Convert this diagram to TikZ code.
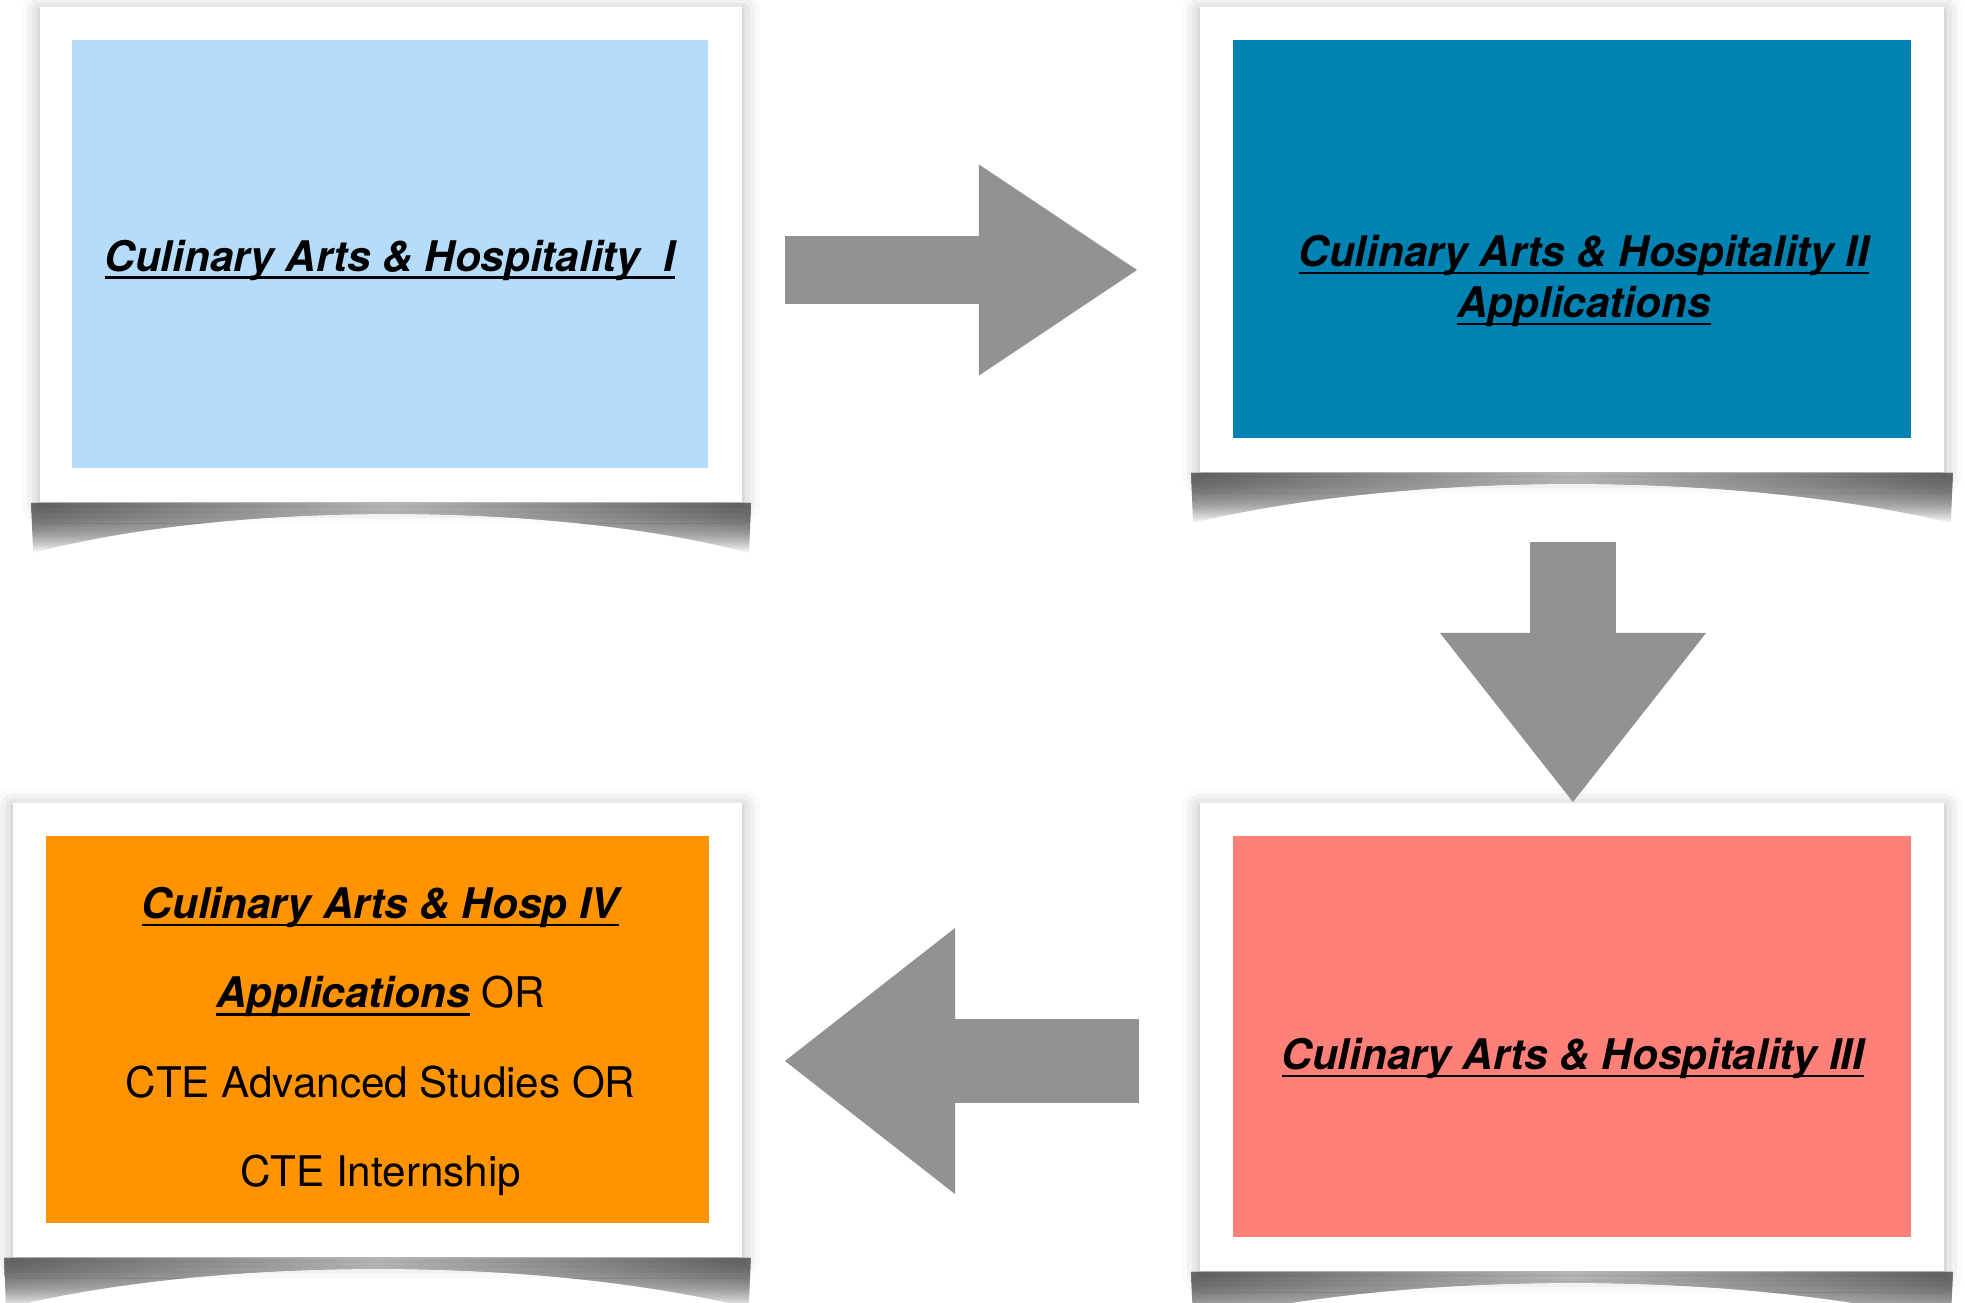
\documentclass[tikz,border=0pt]{standalone}
\usepackage{fontspec}
\setmainfont{TeX Gyre Heros}
\usepackage{tikz}
\usetikzlibrary{positioning,calc,arrows.meta,shadows.blur,fadings}
\pgfdeclarelayer{background}
\pgfsetlayers{background,main}
\definecolor{pastelblue}{RGB}{181,221,251}
\definecolor{oceanblue}{RGB}{0,131,179}
\definecolor{salmonred}{RGB}{255,127,121}
\definecolor{tangerine}{RGB}{255,147,0}
\definecolor{arrowgray}{RGB}{146,146,146}
\tikzfading[name=curlfade, top color=transparent!10, bottom color=transparent!100]
\newsavebox{\ulbox}
\newcommand{\ulbi}[1]{\sbox{\ulbox}{\bfseries\itshape #1}\rlap{\rule[-2.2pt]{\wd\ulbox}{0.7pt}}\usebox{\ulbox}}
\tikzstyle{card} = [rectangle, fill=white, inner sep=0pt,
  blur shadow={shadow xshift=0pt, shadow yshift=-1pt, shadow blur radius=5pt, shadow opacity=30}]
\tikzstyle{panel} = [rectangle, inner sep=0pt]
\tikzstyle{title} = [align=center, inner sep=0pt, font=\fontsize{12}{14.6}\selectfont]
\tikzstyle{curl} = [left color=black!50, right color=black!50, middle color=black!4, path fading=curlfade]
\tikzstyle{bigarrow} = [draw=arrowgray, line width=0.68cm]

\begin{document}
\begin{tikzpicture}[x=0.01cm, y=-0.01cm]
        \useasboundingbox (0,0) rectangle (1965,1303);
        % Cards ------------------------------------------------------------------------------------
        \node[card, minimum width=7.02cm, minimum height=4.95cm] (card1) at (391,254.5) {};
        \node[panel, minimum width=6.36cm, minimum height=4.28cm, fill=pastelblue] (panel1) at (390,254) {};
        \node[card, minimum width=7.44cm, minimum height=4.65cm] (card2) at (1572,239.5) {};
        \node[panel, minimum width=6.78cm, minimum height=3.98cm, fill=oceanblue] (panel2) at (1572,239) {};
        \node[card, minimum width=7.44cm, minimum height=4.68cm] (card3) at (1572,1037) {};
        \node[panel, minimum width=6.78cm, minimum height=4.01cm, fill=salmonred] (panel3) at (1572,1036.5) {};
        \node[card, minimum width=7.29cm, minimum height=4.54cm] (card4) at (377.5,1030) {};
        \node[panel, minimum width=6.63cm, minimum height=3.87cm, fill=tangerine] (panel4) at (377.5,1029.5) {};
        % Curled shadows
        \begin{pgfonlayer}{background}
            \foreach \c in {card1,card2,card3,card4}{
                \fill[curl] ($(\c.south west)+(-8,0)$) -- ($(\c.south west)+(-6,50)$)
                    .. controls ($(\c.south)+(-160,-2)$) and ($(\c.south)+(160,-2)$) .. ($(\c.south east)+(6,50)$)
                    -- ($(\c.south east)+(8,0)$) -- cycle;
            }
        \end{pgfonlayer}
        % Texts ------------------------------------------------------------------------------------
        \node[title] (text1) at ($(panel1.center)+(0,6)$) {\ulbi{Culinary Arts \& Hospitality\ \ I}};
        \node[title] (text2) at ($(panel2.center)+(12,42)$) {\ulbi{Culinary Arts \& Hospitality II}\\\ulbi{Applications}};
        \node[title] (text3) at ($(panel3.center)+(1,22)$) {\ulbi{Culinary Arts \& Hospitality III}};
        \node[title, font=\fontsize{12}{25.4}\selectfont] (text4) at ($(panel4.center)+(3,12)$)
            {\ulbi{Culinary Arts \& Hosp IV}\\\ulbi{Applications} OR\\CTE Advanced Studies OR\\CTE Internship};
        % Arrows -----------------------------------------------------------------------------------
        \coordinate (right_start) at (785,270);
        \coordinate (right_end) at (1137,270);
        \coordinate (down_start) at (1573,542);
        \coordinate (down_end) at (1573,802);
        \coordinate (left_start) at (1139,1061);
        \coordinate (left_end) at (785,1061);
        \draw[bigarrow, -{Triangle[length=1.58cm, width=2.11cm, line width=0pt]}] (right_start) -- (right_end);
        \draw[bigarrow, line width=0.86cm, -{Triangle[length=1.69cm, width=2.66cm, line width=0pt]}] (down_start) -- (down_end);
        \draw[bigarrow, line width=0.84cm, -{Triangle[length=1.70cm, width=2.66cm, line width=0pt]}] (left_start) -- (left_end);
    \end{tikzpicture}
\end{document}
